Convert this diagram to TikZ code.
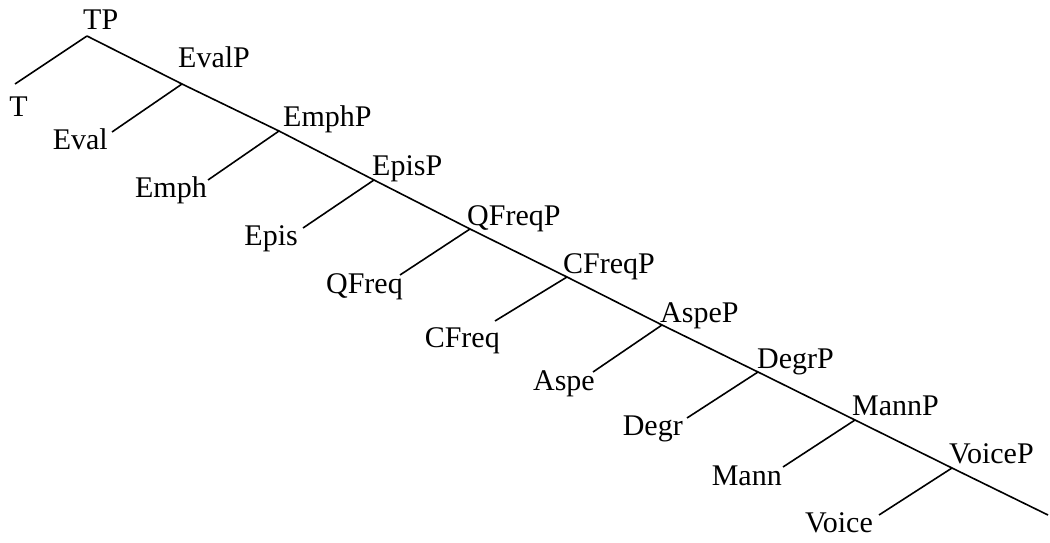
\documentclass[tikz,border=0pt]{standalone}
\usepackage{fontspec}
\setmainfont{Liberation Serif}
\begin{document}
\begin{tikzpicture}[x=1pt,y=-1pt,
  branch/.style={line width=1.6pt},
  plabel/.style={anchor=base west,inner sep=0pt,font=\fontsize{30}{36}\selectfont},
  hlabel/.style={anchor=base east,inner sep=0pt,font=\fontsize{30}{36}\selectfont}]
\useasboundingbox (0,0) rectangle (1050,543);
% junctions
\coordinate (jTP) at (87,36);
\coordinate (jEvalP) at (182,84);
\coordinate (jEmphP) at (279,131);
\coordinate (jEpisP) at (374,180);
\coordinate (jQFreqP) at (470,229);
\coordinate (jCFreqP) at (567,277);
\coordinate (jAspeP) at (662,325);
\coordinate (jDegrP) at (758,372);
\coordinate (jMannP) at (855,420);
\coordinate (jVoiceP) at (952,468);
\coordinate (jEnd) at (1048,515);
% head line ends
\coordinate (eT) at (15,84);
\coordinate (eEval) at (112,132);
\coordinate (eEmph) at (208,180);
\coordinate (eEpis) at (303,228);
\coordinate (eQFreq) at (400,275);
\coordinate (eCFreq) at (495,321);
\coordinate (eAspe) at (593,372);
\coordinate (eDegr) at (687,418);
\coordinate (eMann) at (783,467);
\coordinate (eVoice) at (879,515);
% phrase labels
\node[plabel] (TP) at (83,30) {TP};
\node[plabel] (EvalP) at (178,68) {EvalP};
\node[plabel] (EmphP) at (283,126) {EmphP};
\node[plabel] (EpisP) at (372,175) {EpisP};
\node[plabel] (QFreqP) at (467,225) {QFreqP};
\node[plabel] (CFreqP) at (563,273) {CFreqP};
\node[plabel] (AspeP) at (660,322) {AspeP};
\node[plabel] (DegrP) at (757,368) {DegrP};
\node[plabel] (MannP) at (852,415) {MannP};
\node[plabel] (VoiceP) at (949,463) {VoiceP};
% head labels
\node[hlabel] (T) at (28,117) {T};
\node[hlabel] (Eval) at (108,149) {Eval};
\node[hlabel] (Emph) at (207,197) {Emph};
\node[hlabel] (Epis) at (298,245) {Epis};
\node[hlabel] (QFreq) at (403,293) {QFreq};
\node[hlabel] (CFreq) at (500,347) {CFreq};
\node[hlabel] (Aspe) at (595,390) {Aspe};
\node[hlabel] (Degr) at (683,435) {Degr};
\node[hlabel] (Mann) at (782,485) {Mann};
\node[hlabel] (Voice) at (873,532) {Voice};
% spine
\draw[branch] (jTP) -- (jEvalP) -- (jEmphP) -- (jEpisP) -- (jQFreqP) -- (jCFreqP)
  -- (jAspeP) -- (jDegrP) -- (jMannP) -- (jVoiceP) -- (jEnd);
% heads
\draw[branch] (jTP) -- (eT);
\draw[branch] (jEvalP) -- (eEval);
\draw[branch] (jEmphP) -- (eEmph);
\draw[branch] (jEpisP) -- (eEpis);
\draw[branch] (jQFreqP) -- (eQFreq);
\draw[branch] (jCFreqP) -- (eCFreq);
\draw[branch] (jAspeP) -- (eAspe);
\draw[branch] (jDegrP) -- (eDegr);
\draw[branch] (jMannP) -- (eMann);
\draw[branch] (jVoiceP) -- (eVoice);
\end{tikzpicture}
\end{document}
